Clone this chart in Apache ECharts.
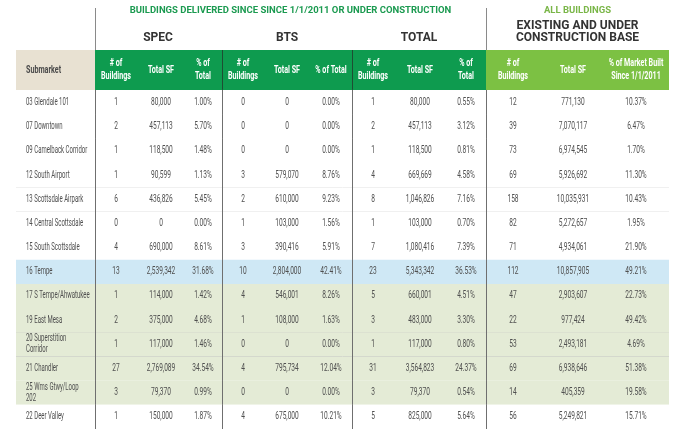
<!DOCTYPE html>
<html><head><meta charset="utf-8">
<script src="https://cdn.jsdelivr.net/npm/echarts@6/dist/echarts.min.js"></script>
<style>html,body{margin:0;padding:0;background:#fff}#c{width:680px;height:429px}</style>
</head><body><div id="c"></div>
<script>
// ---- data ----
const submarkets = ['03 Glendale 101','07 Downtown','09 Camelback Corridor','12 South Airport','13 Scottsdale Airpark','14 Central Scottsdale','15 South Scottsdale','16 Tempe','17 S Tempe/Ahwatukee','19 East Mesa','20 Superstition\nCorridor','21 Chandler','25 Wms Gtwy/Loop\n202','22 Deer Valley'];
const specBuildings = [1,2,1,1,6,0,4,13,1,2,1,27,3,1];
const specSF = [80000,457113,118500,90599,436826,0,690000,2539342,114000,375000,117000,2769089,79370,150000];
const specPct = [1.00,5.70,1.48,1.13,5.45,0.00,8.61,31.68,1.42,4.68,1.46,34.54,0.99,1.87];
const btsBuildings = [0,0,0,3,2,1,3,10,4,1,0,4,0,4];
const btsSF = [0,0,0,579070,610000,103000,390416,2804000,546001,108000,0,795734,0,675000];
const btsPct = [0.00,0.00,0.00,8.76,9.23,1.56,5.91,42.41,8.26,1.63,0.00,12.04,0.00,10.21];
const totalBuildings = [1,2,1,4,8,1,7,23,5,3,1,31,3,5];
const totalSF = [80000,457113,118500,669669,1046826,103000,1080416,5343342,660001,483000,117000,3564823,79370,825000];
const totalPct = [0.55,3.12,0.81,4.58,7.16,0.70,7.39,36.53,4.51,3.30,0.80,24.37,0.54,5.64];
const allBuildings = [12,39,73,69,158,82,71,112,47,22,53,69,14,56];
const allSF = [771130,7070117,6974545,5926692,10035931,5272657,4934061,10857905,2903607,977424,2493181,6938646,405359,5249821];
const allPctBuilt = [10.37,6.47,1.70,11.30,10.43,1.95,21.90,49.21,22.73,49.42,4.69,51.38,19.58,15.71];
const rowHighlight = ['','','','','','','','tempe','east','east','east','east','east',''];
const columnHeaders = ['Submarket','# of\nBuildings','Total SF','% of\nTotal','# of\nBuildings','Total SF','% of Total','# of\nBuildings','Total SF','% of\nTotal','# of\nBuildings','Total SF','% of Market Built\nSince 1/1/2011'];
const groupTitles = ['SPEC','BTS','TOTAL'];
const sectionTitle = 'BUILDINGS DELIVERED SINCE SINCE 1/1/2011 OR UNDER CONSTRUCTION';
const allTitle = 'ALL BUILDINGS';
const allSubtitle = 'EXISTING AND UNDER\nCONSTRUCTION BASE';

// ---- layout / style ----
const X0 = 16, X1 = 669;
const colPos = [26,116,161,203,243,287,331,373,420,466,513,573,636];
const dividers = [95,222,352,486];
const groupCenters = [158,287,419];
const FONT = 'Roboto, "Liberation Sans", sans-serif';
const HEAD = 'Roboto, "Open Sans", sans-serif';
const NUM_SQUEEZE = 0.66, NAME_SQUEEZE = 0.6, HEAD_SQUEEZE = 0.68;
const rowFill = {'':'#ffffff', tempe:'#cfe8f5', east:'#e4ebd6'};

const fmtInt = v => v.toLocaleString('en-US');
const fmtPct = v => v.toFixed(2) + '%';
const columns = [
  i => submarkets[i],
  i => fmtInt(specBuildings[i]), i => fmtInt(specSF[i]), i => fmtPct(specPct[i]),
  i => fmtInt(btsBuildings[i]), i => fmtInt(btsSF[i]), i => fmtPct(btsPct[i]),
  i => fmtInt(totalBuildings[i]), i => fmtInt(totalSF[i]), i => fmtPct(totalPct[i]),
  i => fmtInt(allBuildings[i]), i => fmtInt(allSF[i]), i => fmtPct(allPctBuilt[i])
];

const chart = echarts.init(document.getElementById('c'), null, {renderer:'canvas'});

function bodyItem(params, api) {
  const i = api.value(1);
  const c = api.coord([X0, i]);
  const h = api.size([0, 1])[1];
  const xL = c[0], xR = api.coord([X1, i])[0];
  const y0 = c[1] - h / 2;
  const ch = [];
  ch.push({type:'rect', shape:{x:xL, y:y0, width:xR - xL, height:h}, style:{fill:rowFill[rowHighlight[i]]}});
  if (i < submarkets.length - 1)
    ch.push({type:'line', shape:{x1:xL, y1:Math.round(y0 + h) + 0.5, x2:xR, y2:Math.round(y0 + h) + 0.5}, style:{stroke:'#c4c4c4', lineWidth:1}});
  dividers.forEach(d => {
    const x = Math.round(api.coord([d, i])[0]) + 0.5;
    ch.push({type:'line', shape:{x1:x, y1:y0 - 0.5, x2:x, y2:y0 + h + 0.5}, style:{stroke:'#6f6f6f', lineWidth:1}});
  });
  columns.forEach((f, j) => {
    const x = api.coord([colPos[j], i])[0];
    const isName = j === 0;
    ch.push({type:'text', x:x, y:c[1], scaleX:isName ? NAME_SQUEEZE : NUM_SQUEEZE, style:{
      text:f(i), fill:'#4f4f4f', font:'10px ' + FONT,
      align:isName ? 'left' : 'center', verticalAlign:'middle', lineHeight:11
    }});
  });
  return {type:'group', children:ch};
}

function headerItem(params, api) {
  const c = api.coord([X0, 0]);
  const h = api.size([0, 1])[1];
  const y0 = c[1] - h / 2;
  const px = v => api.coord([v, 0])[0];
  const ch = [
    {type:'rect', shape:{x:px(X0), y:y0, width:px(dividers[0]) - px(X0), height:h}, style:{fill:'#e8e1d2'}},
    {type:'rect', shape:{x:px(dividers[0]), y:y0, width:px(dividers[3]) - px(dividers[0]), height:h}, style:{fill:'#0e9b4f'}},
    {type:'rect', shape:{x:px(dividers[3]), y:y0, width:px(X1) - px(dividers[3]), height:h}, style:{fill:'#7cc143'}}
  ];
  [dividers[1], dividers[2]].forEach(d => {
    const x = Math.round(px(d)) + 0.5;
    ch.push({type:'line', shape:{x1:x, y1:y0, x2:x, y2:y0 + h}, style:{stroke:'#1f4d33', lineWidth:1}});
  });
  columnHeaders.forEach((t, j) => {
    ch.push({type:'text', x:px(colPos[j]), y:c[1], scaleX:HEAD_SQUEEZE, style:{
      text:t, fill:j === 0 ? '#4a4a4a' : '#ffffff', font:'bold 10.5px ' + FONT,
      align:j === 0 ? 'left' : 'center', verticalAlign:'middle', lineHeight:12.5
    }});
  });
  return {type:'group', children:ch};
}

const graphics = [];
[dividers[0], dividers[3]].forEach(d => {
  graphics.push({type:'line', shape:{x1:d + 0.5, y1:8, x2:d + 0.5, y2:50}, style:{stroke:'#8a8a8a', lineWidth:1}, silent:true});
});
graphics.push({type:'text', x:(dividers[0] + dividers[3]) / 2, y:11, style:{text:sectionTitle, fill:'#1b9a50', font:'bold 9.5px ' + HEAD, align:'center', verticalAlign:'middle'}});
graphics.push({type:'text', x:(dividers[3] + X1) / 2, y:11, style:{text:allTitle, fill:'#7ab648', font:'bold 9.5px ' + HEAD, align:'center', verticalAlign:'middle'}});
graphics.push({type:'text', x:(dividers[3] + X1) / 2, y:32, style:{text:allSubtitle, fill:'#333333', font:'bold 12px ' + HEAD, align:'center', verticalAlign:'middle', lineHeight:12.5}});
groupTitles.forEach((t, k) => {
  graphics.push({type:'text', x:groupCenters[k], y:38, style:{text:t, fill:'#333333', font:'bold 12px ' + HEAD, align:'center', verticalAlign:'middle'}});
});

chart.setOption({
  animation:false,
  graphic:graphics,
  grid:[
    {left:X0, right:680 - X1, top:50, height:40},
    {left:X0, right:680 - X1, top:90.4, height:340.2}
  ],
  xAxis:[
    {gridIndex:0, type:'value', min:X0, max:X1, show:false},
    {gridIndex:1, type:'value', min:X0, max:X1, show:false}
  ],
  yAxis:[
    {gridIndex:0, type:'category', data:['header'], show:false},
    {gridIndex:1, type:'category', data:submarkets, inverse:true, show:false}
  ],
  series:[
    {type:'custom', xAxisIndex:0, yAxisIndex:0, renderItem:headerItem, data:[[X0, 0]], encode:{x:0, y:1}},
    {type:'custom', xAxisIndex:1, yAxisIndex:1, renderItem:bodyItem, data:submarkets.map((s, i) => [X0, i]), encode:{x:0, y:1}, clip:false}
  ]
});
</script>
</body></html>
